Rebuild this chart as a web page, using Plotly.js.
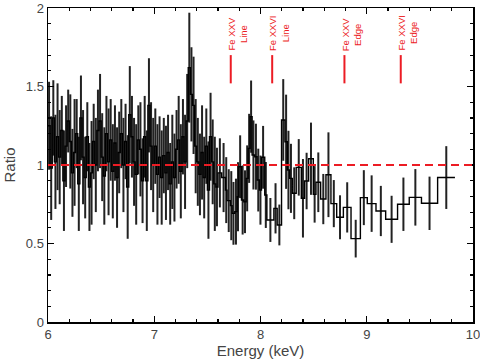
<!DOCTYPE html>
<html>
<head>
<meta charset="utf-8">
<script src="https://cdn.plot.ly/plotly-3.0.1.min.js"></script>
<style>html,body{margin:0;padding:0;background:#fff;}#chart{width:480px;height:363px;}</style>
</head>
<body>
<div id="chart"></div>
<script>
// Bin edges in keV (n+1 values)
const binEdges = [
  6.00,6.02,6.04,6.06,6.08,6.10,6.12,6.14,6.16,6.18,6.20,6.22,6.24,6.26,6.28,6.30,6.32,6.34,6.36,6.38,
  6.40,6.42,6.44,6.46,6.48,6.50,6.52,6.54,6.56,6.58,6.60,6.62,6.64,6.66,6.68,6.70,6.72,6.74,6.76,6.78,
  6.80,6.82,6.84,6.86,6.88,6.90,6.92,6.94,6.96,6.98,7.00,7.02,7.04,7.06,7.08,7.10,7.12,7.14,7.16,7.18,
  7.20,7.22,7.24,7.26,7.28,7.30,7.32,7.34,7.36,7.38,7.40,7.42,7.44,7.46,7.48,7.50,7.52,7.54,7.56,7.58,7.60,
  7.635,7.67,
  7.685,7.717,7.733,7.758,7.78,7.796,7.821,7.843,7.865,7.884,7.902,7.921,7.946,7.968,7.99,8.009,8.04,8.06,
  8.126,8.157,8.198,8.23,8.252,8.274,8.299,8.336,8.384,
  8.415,8.453,8.497,8.522,8.566,8.616,8.663,8.717,8.78,8.852,8.94,9.005,9.087,9.178,9.29,9.40,9.515,9.667,9.83
];

// Data/model ratio per bin
const ratio = [
  1.25,0.98,1.30,1.02,1.18, 1.05,1.22,0.90,1.12,1.28,
  1.15,0.95,1.08,1.20,0.88, 1.30,1.05,0.92,1.18,0.86,
  0.95,1.15,1.00,1.22,1.28, 1.05,0.93,1.20,1.02,1.16,
  0.96,1.14,0.92,1.08,1.20, 1.00,1.15,0.86,1.32,1.18,
  1.02,0.94,1.16,1.10,0.90, 1.18,0.90,1.38,1.12,1.00,
  1.12,0.94,1.05,0.92,1.06, 0.95,1.08,0.88,1.02,0.92,
  1.10,1.16,0.96,1.18,1.02, 1.28,1.62,1.45,1.38,1.12,
  1.02,0.94,1.08,0.92,1.12, 0.84,1.18,1.02,0.88,0.86,
  0.95,0.92,
  0.84,0.773,0.741,0.692,0.703,0.798,0.989,0.777,0.766,0.915,1.106,1.308,1.064,1.053,0.904,0.84,1.049,0.809,
  0.65,0.724,0.618,1.287,1.148,0.968,0.915,0.82,0.985,
  0.788,0.898,1.04,0.813,0.89,0.783,0.938,0.754,0.667,0.73,0.531,0.792,0.754,0.707,0.654,0.75,0.794,0.756,0.92
];

// 1-sigma error per bin
const ratioErr = [
  0.28,0.33,0.24,0.30,0.34, 0.30,0.22,0.32,0.26,0.20,
  0.30,0.28,0.34,0.22,0.30, 0.27,0.30,0.26,0.22,0.28,
  0.33,0.24,0.30,0.26,0.30, 0.28,0.31,0.24,0.34,0.26,
  0.30,0.24,0.32,0.26,0.22, 0.30,0.24,0.33,0.31,0.26,
  0.28,0.32,0.22,0.30,0.27, 0.26,0.32,0.30,0.28,0.30,
  0.24,0.32,0.26,0.30,0.24, 0.30,0.24,0.26,0.30,0.28,
  0.25,0.28,0.30,0.24,0.30, 0.30,0.35,0.30,0.31,0.30,
  0.28,0.26,0.30,0.26,0.24, 0.31,0.28,0.27,0.30,0.25,
  0.22,0.22,
  0.21,0.20,0.22,0.20,0.21,0.22,0.20,0.22,0.20,0.21,0.22,0.23,0.22,0.21,0.20,0.22,0.20,0.21,
  0.14,0.16,0.13,0.26,0.30,0.25,0.22,0.165,0.18,
  0.25,0.18,0.23,0.18,0.19,0.16,0.27,0.15,0.14,0.16,0.12,0.175,0.18,0.16,0.15,0.17,0.18,0.17,0.20
];

// Feature markers
const featureLabels = ["Fe XXV<br>Line", "Fe XXVI<br>Line", "Fe XXV<br>Edge", "Fe XXVI<br>Edge"];
const featureEnergies = [7.72, 8.11, 8.79, 9.32];

const RED = '#ec1c24';
const FONT = 'Liberation Sans, Arial, Helvetica, sans-serif';

// Build step line and error-bar centers from the data
const stepX = [], stepY = [], centers = [];
for (let i = 0; i < ratio.length; i++) {
  stepX.push(binEdges[i], binEdges[i+1]);
  stepY.push(ratio[i], ratio[i]);
  centers.push((binEdges[i] + binEdges[i+1]) / 2);
}

const traces = [
  {
    x: centers, y: ratio, type: 'scatter', mode: 'markers',
    marker: {size: 1, color: 'rgba(0,0,0,0)'},
    error_y: {type: 'data', array: ratioErr, visible: true, color: '#222', thickness: 2, width: 0}
  },
  {
    x: stepX, y: stepY, type: 'scatter', mode: 'lines',
    line: {color: '#000', width: 1.4}
  }
];

const shapeList = [
  {type: 'line', xref: 'x', yref: 'y', x0: 6, x1: 10, y0: 1, y1: 1,
   line: {color: RED, width: 2, dash: '8px,5px'}}
];
const annList = [];
featureEnergies.forEach((e, i) => {
  shapeList.push({type: 'line', xref: 'x', yref: 'y', x0: e, x1: e, y0: 1.52, y1: 1.70,
                  line: {color: RED, width: 2}});
  annList.push({
    x: e, y: 1.715, xref: 'x', yref: 'y', text: featureLabels[i], showarrow: false,
    textangle: -90, xanchor: 'center', yanchor: 'bottom', xshift: 6.5,
    font: {size: 9.5, color: RED}
  });
});

const xAxisCfg = {
  showgrid: false, zeroline: false, showline: true, mirror: 'ticks', linecolor: '#000',
  ticks: 'inside', tickcolor: '#000', linewidth: 1.5, tickwidth: 1.2, ticklen: 6,
  range: [6, 10], tick0: 6, dtick: 1,
  minor: {dtick: 0.2, ticks: 'inside', ticklen: 3},
  ticklabeloverflow: 'allow',
  tickfont: {size: 13},
  title: {text: 'Energy (keV)', standoff: 2, font: {size: 15}}
};
const yAxisCfg = {
  showgrid: false, zeroline: false, showline: true, mirror: 'ticks', linecolor: '#000',
  ticks: 'inside', tickcolor: '#000', linewidth: 1.5, tickwidth: 1.2, ticklen: 6,
  range: [0, 2], tick0: 0, dtick: 0.5,
  minor: {dtick: 0.1, ticks: 'inside', ticklen: 3},
  ticklabeloverflow: 'allow',
  tickfont: {size: 13},
  title: {text: 'Ratio', standoff: 6, font: {size: 15}}
};

const layoutCfg = {
  width: 480, height: 363,
  margin: {l: 48, r: 7, t: 8, b: 41},
  font: {family: FONT, size: 13},
  xaxis: xAxisCfg, yaxis: yAxisCfg,
  shapes: shapeList, annotations: annList,
  showlegend: false
};

Plotly.newPlot('chart', traces, layoutCfg, {staticPlot: true});
</script>
</body>
</html>
